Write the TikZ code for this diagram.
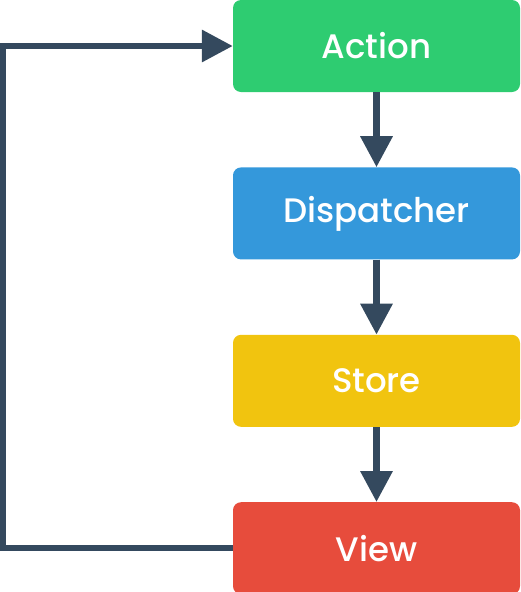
\documentclass[tikz,border=0pt]{standalone}
\usepackage{fontspec}
\setmainfont{Poppins Medium}
\usepackage{tikz}
\usetikzlibrary{arrows.meta, positioning}
\definecolor{mygreen}{RGB}{46,204,113}
\definecolor{myblue}{RGB}{52,152,219}
\definecolor{myyellow}{RGB}{241,196,15}
\definecolor{myred}{RGB}{231,76,60}
\definecolor{mynavy}{RGB}{52,73,94}
\tikzset{
  fluxbox/.style={rectangle, draw=none, text=white,
    minimum width=287pt, minimum height=92pt, inner sep=0pt,
    font=\fontsize{34}{39}\selectfont, rounded corners=8pt},
  arrow/.style={-{Triangle[width=31pt, length=31pt]}, line width=6.5pt, color=mynavy},
  line/.style={line width=6.5pt, color=mynavy}
}
\begin{document}
\begin{tikzpicture}[x=1pt, y=1pt]
  \useasboundingbox (0,0) rectangle (520,-592);
  % flux boxes
  \node[fluxbox, fill=mygreen] (action) at (376.5,-46) {Action};
  \node[fluxbox, fill=myblue, below=75pt of action] (dispatcher) {Dispatcher};
  \node[fluxbox, fill=myyellow, below=75pt of dispatcher] (store) {Store};
  \node[fluxbox, fill=myred, below=75pt of store] (view) {View};
  % arrows down
  \draw[arrow] (action) -- (dispatcher);
  \draw[arrow] (dispatcher) -- (store);
  \draw[arrow] (store) -- (view);
  % loop back to the action
  \draw[arrow] (view.west) -- ++(-230,0) |- (action.west);
\end{tikzpicture}
\end{document}
